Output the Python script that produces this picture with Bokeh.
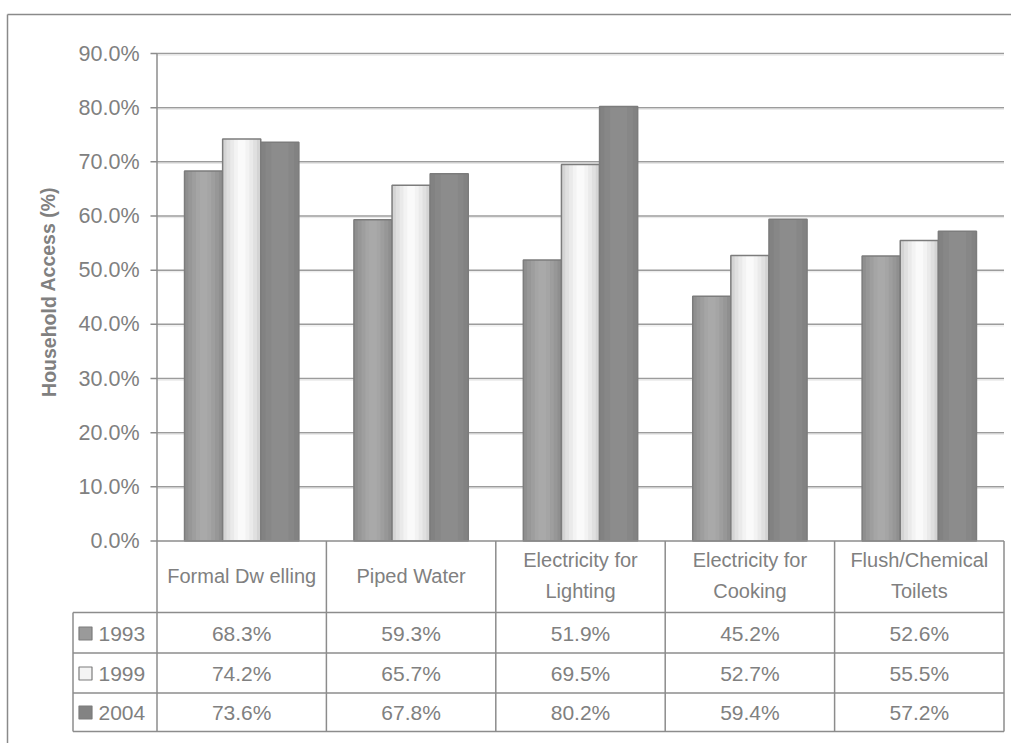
from bokeh.plotting import figure
from bokeh.models import Range1d
from bokeh.core.properties import value
from bokeh.embed import file_html
from bokeh.resources import INLINE

# ---------------- data ----------------
categories = ["Formal Dw elling", "Piped Water", "Electricity for\nLighting",
              "Electricity for\nCooking", "Flush/Chemical\nToilets"]
years = ["1993", "1999", "2004"]
v1993 = [68.3, 59.3, 51.9, 45.2, 52.6]
v1999 = [74.2, 65.7, 69.5, 52.7, 55.5]
v2004 = [73.6, 67.8, 80.2, 59.4, 57.2]
y_ticks = [0, 10, 20, 30, 40, 50, 60, 70, 80, 90]
y_title = "Household Access (%)"

series = [v1993, v1999, v2004]

# ---------------- layout helpers (pixel -> data) ----------------
W, H = 1011, 743
PL, PR = 156.5, 1003.5          # plot left/right px
P0, P90 = 540.5, 53.0           # y px of 0% and 90%
CW = (PR - PL) / len(categories)
YS = (P0 - P90) / 90.0

def xd(px):
    return (px - PL) / CW

def yd(py):
    return (P0 - py) / YS

FONT = value("Liberation Sans")
TXT = "#808080"
LINE = "#8c8c8c"

p = figure(width=W, height=H, x_range=Range1d(xd(0), xd(W)), y_range=Range1d(yd(H), yd(0)),
           output_backend="svg", toolbar_location=None, x_axis_location=None,
           y_axis_location=None, min_border=0, outline_line_color=None)
p.grid.visible = False
p.background_fill_color = "white"
p.border_fill_color = "white"

n = len(categories)

# outer frame (top & left)
p.segment(x0=[xd(7), xd(7)], y0=[yd(14), yd(14)], x1=[xd(W + 5), xd(7)], y1=[yd(14), yd(H + 5)],
          line_color="#8a8a8a", line_width=1.5)

# gridlines
gt = [t for t in y_ticks if t > 0]
p.segment(x0=[0] * len(gt), y0=gt, x1=[n] * len(gt), y1=gt, line_color="#9c9c9c", line_width=1.5)
p.segment(x0=[0] * len(gt), y0=[t - 0.3 for t in gt], x1=[n] * len(gt), y1=[t - 0.3 for t in gt],
          line_color="#e6e6e6", line_width=1)

# bars with gradient-like nested layers
bw = 0.225
offsets = [-bw, 0.0, bw]
styles = [
    [(1.0, "#8f8f8f"), (0.8, "#979797"), (0.6, "#9e9e9e"), (0.4, "#a5a5a5"), (0.2, "#a9a9a9")],
    [(1.0, "#d4d4d4"), (0.8, "#e0e0e0"), (0.6, "#eaeaea"), (0.4, "#f3f3f3"), (0.2, "#fafafa")],
    [(1.0, "#828282"), (0.75, "#878787"), (0.45, "#8c8c8c")],
]
for vals, off, sty in zip(series, offsets, styles):
    xs = [i + 0.5 + off for i in range(n)]
    for frac, col in sty:
        p.vbar(x=xs, top=vals, bottom=0, width=bw * frac, fill_color=col, line_color=None)
    p.vbar(x=xs, top=vals, bottom=0, width=bw, fill_color=None, line_color="#7c7c7c", line_width=1.5)

# y axis: line, ticks, labels, title
p.segment(x0=[0], y0=[0], x1=[0], y1=[90], line_color=LINE, line_width=1.5)
p.segment(x0=[xd(150)] * len(y_ticks), y0=y_ticks, x1=[0] * len(y_ticks), y1=y_ticks,
          line_color=LINE, line_width=1.5)
p.text(x=[xd(139)] * len(y_ticks), y=y_ticks, text=[f"{t:.1f}%" for t in y_ticks],
       text_align="right", text_baseline="middle", text_font=FONT, text_font_size="21.5px",
       text_color=TXT)
p.text(x=[xd(48)], y=[46], text=[y_title], angle=1.5708, text_align="center",
       text_baseline="middle", text_font=FONT, text_font_size="19.5px", text_font_style="bold",
       text_color=TXT)

# data table
t_hdr, t_r1, t_r2, t_r3 = yd(612), yd(652.5), yd(692.5), yd(731)
t_left = xd(72.5)
# horizontal lines
p.segment(x0=[0, t_left, t_left, t_left, t_left], y0=[0, t_hdr, t_r1, t_r2, t_r3],
          x1=[n] * 5, y1=[0, t_hdr, t_r1, t_r2, t_r3], line_color=LINE, line_width=1.5)
# vertical lines
vx = list(range(1, n + 1))
p.segment(x0=vx, y0=[0] * n, x1=vx, y1=[t_r3] * n, line_color=LINE, line_width=1.5)
p.segment(x0=[0, t_left], y0=[0, t_hdr], x1=[0, t_left], y1=[t_r3, t_r3], line_color=LINE, line_width=1.5)

# header labels
p.text(x=[i + 0.5 for i in range(n)], y=[yd(575)] * n, text=categories, text_align="center",
       text_baseline="middle", text_font=FONT, text_font_size="20px", text_color=TXT,
       text_line_height=1.45)

# rows
row_y = [yd(633), yd(673), yd(712)]
leg_fill = ["#9a9a9a", "#f4f4f4", "#838383"]
for vals, ry, yr, lf in zip(series, row_y, years, leg_fill):
    p.text(x=[i + 0.5 for i in range(n)], y=[ry] * n, text=[f"{v:.1f}%" for v in vals],
           text_align="center", text_baseline="middle", text_font=FONT, text_font_size="21px",
           text_color=TXT)
    p.rect(x=[xd(85)], y=[ry], width=13, height=13, width_units="screen", height_units="screen",
           fill_color=lf, line_color="#7c7c7c", line_width=1.2)
    p.text(x=[xd(98)], y=[ry], text=[yr], text_align="left", text_baseline="middle",
           text_font=FONT, text_font_size="21px", text_color=TXT)

open("out.html", "w").write(file_html(p, INLINE))
